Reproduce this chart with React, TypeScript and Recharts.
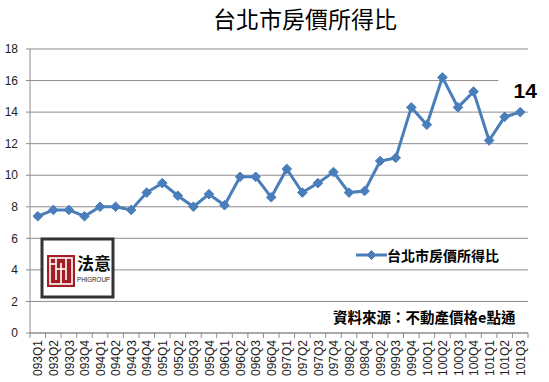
import React from 'react';
import { LineChart, Line, XAxis, YAxis, CartesianGrid, Legend } from 'recharts';

const categories = [
  '093Q1', '093Q2', '093Q3', '093Q4',
  '094Q1', '094Q2', '094Q3', '094Q4',
  '095Q1', '095Q2', '095Q3', '095Q4',
  '096Q1', '096Q2', '096Q3', '096Q4',
  '097Q1', '097Q2', '097Q3', '097Q4',
  '098Q2', '098Q4',
  '099Q2', '099Q3', '099Q4',
  '100Q1', '100Q2', '100Q3', '100Q4',
  '101Q1', '101Q2', '101Q3',
];

const ratios = [
  7.4, 7.8, 7.8, 7.4,
  8.0, 8.0, 7.8, 8.9,
  9.5, 8.7, 8.0, 8.8,
  8.1, 9.9, 9.9, 8.6,
  10.4, 8.9, 9.5, 10.2,
  8.9, 9.0,
  10.9, 11.1, 14.3,
  13.2, 16.2, 14.3, 15.3,
  12.2, 13.7, 14.0,
];

const yTicks = [0, 2, 4, 6, 8, 10, 12, 14, 16, 18];

const titleText = '台北市房價所得比';
const seriesName = '台北市房價所得比';
const sourceNote = '資料來源：不動產價格e點通';
const logoName = '法意';
const logoSub = 'PHIGROUP';

const data = categories.map((q, i) => ({ quarter: q, ratio: ratios[i] }));

const W = 549;
const H = 382;
const BLUE = '#4a7ebb';
const GRID = '#8c8c8c';
const LATIN = '"Liberation Sans", Arial, sans-serif';
const CJK = '"Noto Sans CJK TC", "Noto Sans CJK SC", sans-serif';
const FALLBACK_HALF = (528 - 30) / categories.length / 2;

const XTick = (props: any) => {
  const { x, y, payload, index } = props;
  const half = payload && payload.offset > 0 ? payload.offset : FALLBACK_HALF;
  const isLast = index === categories.length - 1;
  return (
    <g>
      <line x1={x - half} x2={x - half} y1={y} y2={y + 5} stroke={GRID} />
      {isLast && <line x1={x + half} x2={x + half} y1={y} y2={y + 5} stroke={GRID} />}
      <text
        x={0}
        y={0}
        transform={`translate(${x + 0.5},${y + 7}) rotate(-90)`}
        textAnchor="end"
        dy="0.35em"
        fontSize={12}
        fontFamily={LATIN}
        fill="#222"
      >
        {payload.value}
      </text>
    </g>
  );
};

const Diamond = ({ cx, cy, r = 4.8 }: { cx: number; cy: number; r?: number }) => (
  <polygon
    points={`${cx},${cy - r} ${cx + r},${cy} ${cx},${cy + r} ${cx - r},${cy}`}
    fill={BLUE}
    stroke={BLUE}
    strokeWidth={1}
  />
);

const renderDot = (p: any) => <Diamond key={`d${p.index}`} cx={p.cx} cy={p.cy} />;

const renderLastLabel = (p: any) => {
  if (p.index !== categories.length - 1) return <g key={`l${p.index}`} />;
  const { x, y, value } = p;
  return (
    <g key={`l${p.index}`}>
      <rect x={x - 22} y={y - 36} width={50} height={30} fill="#fff" />
      <text
        x={x + 5}
        y={y - 14}
        textAnchor="middle"
        fontSize={21}
        fontWeight="bold"
        fontFamily={LATIN}
        fill="#000"
      >
        {String(Math.round(value))}
      </text>
    </g>
  );
};

const renderLegend = () => (
  <div style={{ display: 'flex', alignItems: 'center', height: 20 }}>
    <svg width={31} height={20} style={{ display: 'block' }}>
      <line x1={0} x2={31} y1={10} y2={10} stroke={BLUE} strokeWidth={3} />
      <Diamond cx={15.5} cy={10} r={4.5} />
    </svg>
    <span
      style={{
        fontFamily: CJK,
        fontWeight: 700,
        fontSize: 14,
        lineHeight: '20px',
        color: '#000',
        whiteSpace: 'nowrap',
      }}
    >
      {seriesName}
    </span>
  </div>
);

const Logo = () => (
  <svg
    width={78}
    height={64}
    style={{ position: 'absolute', left: 39, top: 236, display: 'block' }}
  >
    <rect x={3} y={3} width={71} height={58} fill="#fff" stroke="#333" strokeWidth={3} />
    <rect x={8} y={19} width={28} height={32} fill="#a31d24" />
    <rect x={11} y={22} width={22} height={26} fill="none" stroke="#fff" strokeWidth={1.6} />
    <line x1={17} x2={17} y1={22} y2={44} stroke="#fff" strokeWidth={1.6} />
    <line x1={22} x2={22} y1={27} y2={48} stroke="#fff" strokeWidth={1.6} />
    <line x1={27} x2={27} y1={22} y2={44} stroke="#fff" strokeWidth={1.6} />
    <line x1={17} x2={27} y1={33} y2={33} stroke="#fff" strokeWidth={1.6} />
    <line x1={11} x2={17} y1={28} y2={28} stroke="#fff" strokeWidth={1.6} />
    <text
      x={55}
      y={34}
      textAnchor="middle"
      fontSize={17}
      fontWeight={700}
      fontFamily={CJK}
      fill="#111"
    >
      {logoName}
    </text>
    <text
      x={38}
      y={46}
      fontSize={7}
      fontFamily={LATIN}
      fill="#222"
      textLength={33}
      lengthAdjust="spacingAndGlyphs"
    >
      {logoSub}
    </text>
  </svg>
);

export default function App() {
  return (
    <div
      style={{
        position: 'absolute',
        left: 0,
        top: 0,
        width: W,
        height: H,
        background: '#fff',
        overflow: 'hidden',
      }}
    >
      <LineChart
        width={W}
        height={H}
        data={data}
        margin={{ top: 49, right: 21, bottom: 0, left: 0 }}
      >
        <CartesianGrid vertical={false} stroke={GRID} strokeWidth={1} />
        <XAxis
          dataKey="quarter"
          scale="band"
          interval={0}
          height={49}
          axisLine={{ stroke: GRID }}
          tickLine={false}
          tickSize={0}
          tickMargin={0}
          tick={(p: any) => <XTick {...p} />}
        />
        <YAxis
          width={30}
          domain={[0, 18]}
          ticks={yTicks}
          interval={0}
          axisLine={{ stroke: GRID }}
          tickLine={{ stroke: GRID }}
          tickSize={4}
          tickMargin={8}
          tick={{ fontSize: 12, fontFamily: LATIN, fill: '#222' }}
        />
        <Legend
          layout="vertical"
          align="center"
          verticalAlign="middle"
          wrapperStyle={{ left: 356, top: 245, width: 160, height: 20 }}
          content={renderLegend}
        />
        <Line
          type="linear"
          dataKey="ratio"
          name={seriesName}
          stroke={BLUE}
          strokeWidth={3}
          dot={renderDot}
          activeDot={false}
          label={renderLastLabel}
          isAnimationActive={false}
        />
      </LineChart>
      <div
        style={{
          position: 'absolute',
          left: 305,
          top: 5,
          transform: 'translateX(-50%)',
          fontFamily: CJK,
          fontSize: 23,
          lineHeight: '26px',
          color: '#000',
          whiteSpace: 'nowrap',
        }}
      >
        {titleText}
      </div>
      <div
        style={{
          position: 'absolute',
          left: 333,
          top: 308,
          fontFamily: CJK,
          fontWeight: 700,
          fontSize: 14.5,
          lineHeight: '18px',
          color: '#000',
          whiteSpace: 'nowrap',
        }}
      >
        {sourceNote}
      </div>
      <Logo />
    </div>
  );
}
